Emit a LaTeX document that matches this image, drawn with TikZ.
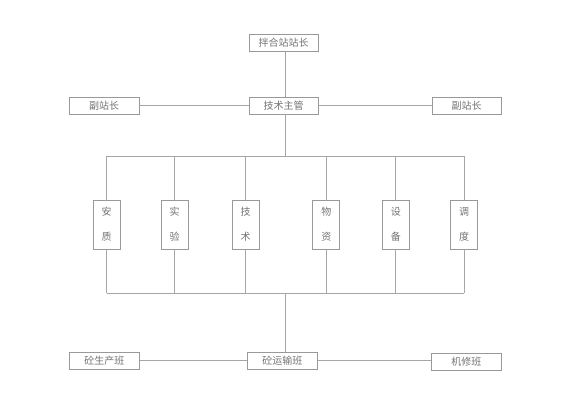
\documentclass[tikz,border=0pt]{standalone}
\usepackage{fontspec}
\newfontfamily\cjk{Noto Sans CJK SC}
\begin{document}
\begin{tikzpicture}[x=1pt,y=-1pt,
  line/.style={draw=black!35, line width=0.8pt},
  hbox/.style={draw=black!40, line width=0.8pt, minimum width=69pt, minimum height=17pt, inner sep=0pt, font=\cjk\fontsize{10}{10}\selectfont, text=black!55},
  vbox/.style={draw=black!40, line width=0.8pt, minimum width=27pt, minimum height=49pt, inner sep=0pt, align=center, font=\cjk\fontsize{10}{25}\selectfont, text=black!55}]
\useasboundingbox (0,0) rectangle (574,400);
% top part
\node[hbox] (top) at (283.5,42.5) {拌合站站长};
\node[hbox] (tech) at (283.5,105.5) {技术主管};
\node[hbox, minimum width=70pt] (vl) at (104,105.5) {副站长};
\node[hbox] (vr) at (466.5,105.5) {副站长};
% departments
\node[vbox] (d1) at (106.7,224.5) {安\\质};
\node[vbox] (d2) at (174.7,224.5) {实\\验};
\node[vbox] (d3) at (245.7,224.5) {技\\术};
\node[vbox] (d4) at (326.3,224.5) {物\\资};
\node[vbox] (d5) at (395.8,224.5) {设\\备};
\node[vbox] (d6) at (464,224.5) {调\\度};
% bottom
\node[hbox, minimum width=70pt] (m1) at (104.3,360.5) {砼生产班};
\node[hbox, minimum width=70pt] (m2) at (282.3,360.5) {砼运输班};
\node[hbox, minimum width=70pt] (m3) at (466.3,361.5) {机修班};
% bus coordinates
\coordinate (bt) at (285,156);
\coordinate (bb) at (285,293.3);
% connectors
\draw[line] (top.south -| bt) -- (tech.north -| bt);
\draw[line] (vl) -- (tech);
\draw[line] (tech) -- (vr);
\draw[line] (tech.south -| bt) -- (bt);
\draw[line] (d1.north |- bt) -- (d6.north |- bt);
\draw[line] (d1.south |- bb) -- (d6.south |- bb);
\foreach \d in {d1,d2,d3,d4,d5,d6}{
  \draw[line] (\d.north) -- (\d.north |- bt);
  \draw[line] (\d.south) -- (\d.south |- bb);
}
\draw[line] (bb) -- (bb |- m2.north);
\draw[line] (m1.east) -- (m2.west);
\draw[line] (m2.east) -- (m2.east -| m3.west);
\end{tikzpicture}
\end{document}
